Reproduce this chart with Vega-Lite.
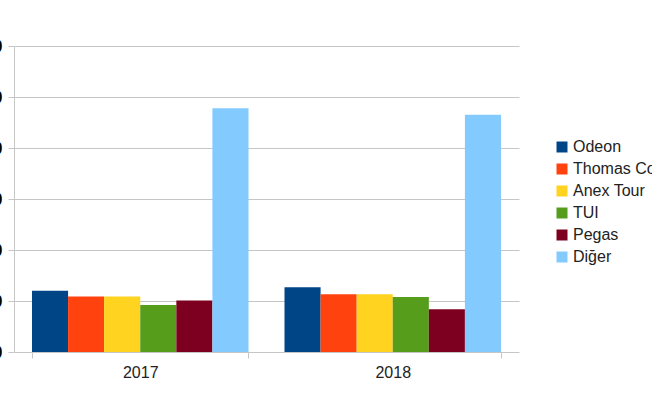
{
  "$schema": "https://vega.github.io/schema/vega-lite/v6.json",
  "width": 505,
  "height": 306,
  "autosize": {"type": "none"},
  "padding": {"left": 14, "top": 46, "right": 133, "bottom": 48},
  "background": "white",
  "config": {
    "font": "Liberation Sans",
    "view": {"stroke": null},
    "axis": {"labelFont": "Liberation Sans", "labelColor": "#222222", "labelFontSize": 16}
  },
  "data": {
    "values": [
      {"year": "2017", "company": "Odeon", "value": 12.0},
      {"year": "2017", "company": "Thomas Cook", "value": 10.9},
      {"year": "2017", "company": "Anex Tour", "value": 10.9},
      {"year": "2017", "company": "TUI", "value": 9.2},
      {"year": "2017", "company": "Pegas", "value": 10.1},
      {"year": "2017", "company": "Diğer", "value": 47.8},
      {"year": "2018", "company": "Odeon", "value": 12.7},
      {"year": "2018", "company": "Thomas Cook", "value": 11.3},
      {"year": "2018", "company": "Anex Tour", "value": 11.3},
      {"year": "2018", "company": "TUI", "value": 10.8},
      {"year": "2018", "company": "Pegas", "value": 8.4},
      {"year": "2018", "company": "Diğer", "value": 46.5}
    ]
  },
  "mark": {"type": "bar"},
  "encoding": {
    "x": {
      "field": "year", "type": "nominal", "title": null,
      "scale": {"paddingInner": 0.1426, "paddingOuter": 0.0713},
      "axis": {
        "labelAngle": 0, "tickBand": "extent", "domain": false,
        "tickColor": "#c6c6c6", "tickSize": 6, "labelPadding": 6
      }
    },
    "xOffset": {
      "field": "company", "type": "nominal",
      "sort": ["Odeon", "Thomas Cook", "Anex Tour", "TUI", "Pegas", "Diğer"],
      "scale": {"paddingInner": 0, "paddingOuter": 0}
    },
    "y": {
      "field": "value", "type": "quantitative", "title": null,
      "scale": {"domain": [0, 60], "nice": false},
      "axis": {
        "values": [0, 10, 20, 30, 40, 50, 60],
        "grid": true, "gridColor": "#c6c6c6", "domainColor": "#c6c6c6",
        "tickColor": "#c6c6c6", "tickSize": 6, "labelPadding": 6,
        "labelColor": "#000000", "labelFontSize": 16, "labelFontWeight": "bold"
      }
    },
    "color": {
      "field": "company", "type": "nominal", "title": null,
      "sort": ["Odeon", "Thomas Cook", "Anex Tour", "TUI", "Pegas", "Diğer"],
      "scale": {
        "domain": ["Odeon", "Thomas Cook", "Anex Tour", "TUI", "Pegas", "Diğer"],
        "range": ["#004586", "#ff420e", "#ffd320", "#579d1c", "#7e0021", "#83caff"]
      },
      "legend": {
        "orient": "none", "legendX": 540, "legendY": 93,
        "symbolType": "square", "symbolSize": 121, "symbolStrokeWidth": 0,
        "labelFontSize": 16, "labelColor": "#222222", "labelOffset": 3,
        "rowPadding": 6, "labelLimit": 200
      }
    }
  }
}
